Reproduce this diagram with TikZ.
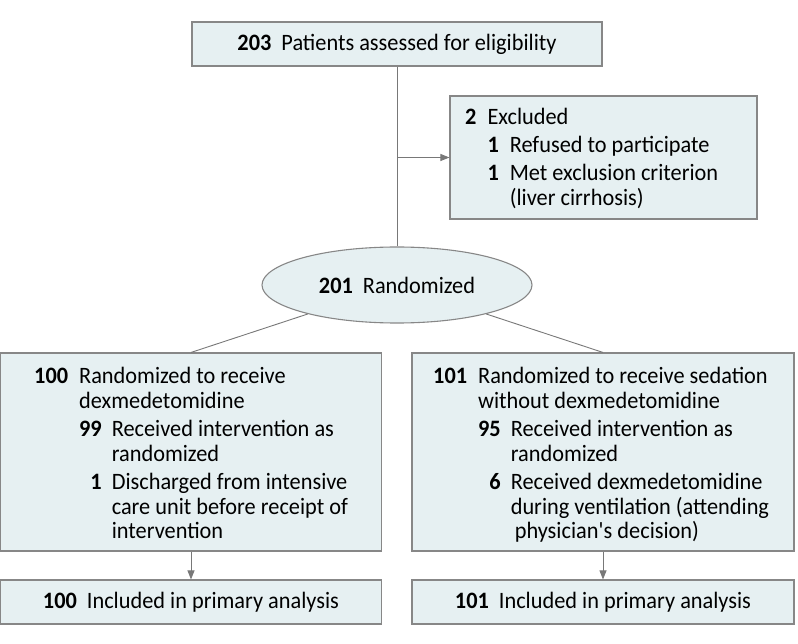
\documentclass[tikz,border=0pt]{standalone}
\usepackage{fontspec}
\setmainfont{Carlito}[FakeStretch=0.95]
\usetikzlibrary{arrows.meta,shapes.geometric}
\definecolor{boxfill}{RGB}{230,240,242}
\definecolor{boxline}{RGB}{135,135,135}
\definecolor{conn}{RGB}{120,120,120}
\begin{document}
\begin{tikzpicture}[x=1pt,y=-1pt,
  box/.style={draw=boxline,fill=boxfill,line width=1.1pt,inner sep=0pt},
  txt/.style={inner sep=0pt,font=\fontsize{23.5}{25}\selectfont},
  link/.style={draw=conn,line width=0.9pt},
  arr/.style={link,-{Triangle[length=9pt,width=7pt]}}]
\useasboundingbox (0,0) rectangle (798,644);
% boxes
\node[box,minimum width=410pt,minimum height=44pt] (top) at (397,44) {};
\node[box,minimum width=307pt,minimum height=123pt] (excl) at (603.5,157.5) {};
\node[box,ellipse,minimum width=270pt,minimum height=76pt] (rand) at (397,285) {};
\node[box,minimum width=381pt,minimum height=198pt] (left) at (191,452) {};
\node[box,minimum width=382pt,minimum height=198pt] (right) at (603,452) {};
\node[box,minimum width=381pt,minimum height=44pt] (lana) at (191,602) {};
\node[box,minimum width=382pt,minimum height=44pt] (rana) at (603,602) {};
% texts
\node[txt] (toptxt) at (top.center) {\textbf{203}\hspace{10pt}Patients assessed for eligibility};
\node[txt,anchor=base west] (excltxt) at (465,125) {%
\begin{tabular}[t]{@{}r@{\hspace{11pt}}r@{\hspace{11pt}}l@{}}
\textbf{2} & \multicolumn{2}{@{}l@{}}{Excluded}\\[3pt]
 & \textbf{1} & Refused to participate\\[3pt]
 & \textbf{1} & Met exclusion criterion\\
 & & (liver cirrhosis)
\end{tabular}};
\node[txt] (randtxt) at (rand.center) {\textbf{201}\hspace{10pt}Randomized};
\node[txt,anchor=base west] (lefttxt) at (34,383) {%
\begin{tabular}[t]{@{}r@{\hspace{11pt}}r@{\hspace{10pt}}l@{}}
\textbf{100} & \multicolumn{2}{@{}l@{}}{Randomized to receive}\\
 & \multicolumn{2}{@{}l@{}}{dexmedetomidine}\\[3pt]
 & \textbf{99} & Received intervention as\\
 & & randomized\\[3pt]
 & \textbf{1} & Discharged from intensive\\
 & & care unit before receipt of\\
 & & intervention
\end{tabular}};
\node[txt,anchor=base west] (righttxt) at (433,383) {%
\begin{tabular}[t]{@{}r@{\hspace{11pt}}r@{\hspace{10pt}}l@{}}
\textbf{101} & \multicolumn{2}{@{}l@{}}{Randomized to receive sedation}\\
 & \multicolumn{2}{@{}l@{}}{without dexmedetomidine}\\[3pt]
 & \textbf{95} & Received intervention as\\
 & & randomized\\[3pt]
 & \textbf{6} & Received dexmedetomidine\\
 & & during ventilation (attending\\
 & & \hspace{4pt}physician\textquotesingle s decision)
\end{tabular}};
\node[txt] (lanatxt) at (lana.center) {\textbf{100}\hspace{10pt}Included in primary analysis};
\node[txt] (ranatxt) at (rana.center) {\textbf{101}\hspace{10pt}Included in primary analysis};
% connectors
\coordinate (split) at (top.south |- excl.west);
\draw[link] (top.south) -- (rand.north);
\draw[arr] (split) -- (excl.west);
\draw[link] (rand.198) -- (left.north);
\draw[link] (rand.342) -- (right.north);
\draw[arr] (left.south) -- (lana.north);
\draw[arr] (right.south) -- (rana.north);
\end{tikzpicture}
\end{document}
